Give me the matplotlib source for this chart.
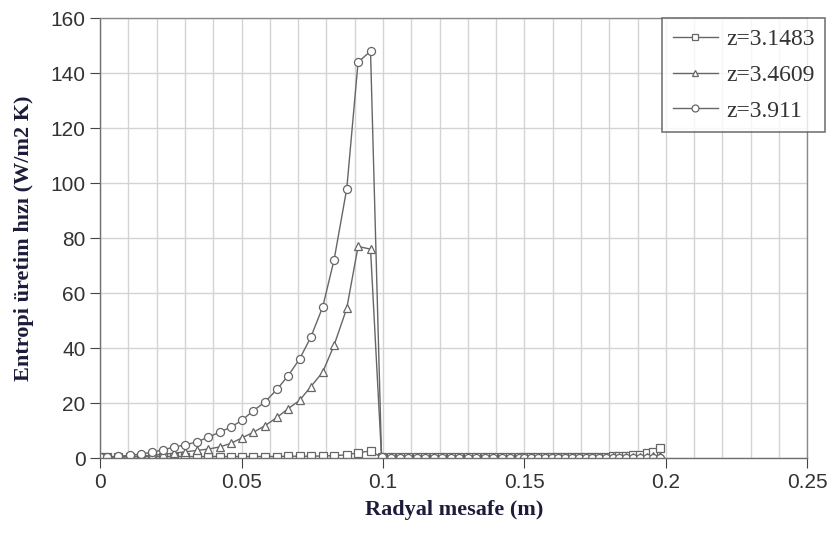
import matplotlib
matplotlib.use("Agg")
import matplotlib.pyplot as plt

# radial positions (m)
r_inner = [0.0, 0.0025, 0.0065, 0.0105, 0.0145, 0.0185, 0.0222, 0.026, 0.030, 0.0342,
           0.0382, 0.0424, 0.0463, 0.0502, 0.0542, 0.0583, 0.0625, 0.0665, 0.0705, 0.0745,
           0.0787, 0.0827, 0.0872, 0.0912, 0.0956, 0.0995]
r_outer = [0.103, 0.106, 0.109, 0.112, 0.115, 0.118, 0.121, 0.124, 0.127, 0.130,
           0.133, 0.136, 0.139, 0.142, 0.145, 0.148,
           0.150, 0.1524, 0.1548, 0.1572, 0.1596, 0.162, 0.1644, 0.1668, 0.1692, 0.1716,
           0.174, 0.1764, 0.1788, 0.1812, 0.1836, 0.186, 0.1884, 0.1908, 0.1932, 0.1956, 0.198]
r = r_inner + r_outer

# entropy generation rate (W/m2 K)
z1_inner = [0.5, 0.5, 0.6, 0.6, 0.6, 0.6, 0.6, 0.6, 0.6, 0.6,
            0.6, 0.6, 0.6, 0.6, 0.6, 0.6, 0.6, 0.7, 0.7, 0.7,
            0.8, 0.9, 1.2, 2.0, 2.6, 0.3]
z1_outer = [0.3, 0.3, 0.3, 0.3, 0.3, 0.3, 0.3, 0.3, 0.3, 0.3,
            0.3, 0.3, 0.3, 0.3, 0.3, 0.3,
            0.4, 0.4, 0.4, 0.4, 0.4, 0.4, 0.4, 0.5, 0.5, 0.5,
            0.5, 0.6, 0.6, 0.7, 0.8, 0.9, 1.0, 1.3, 2.0, 2.2, 3.6]

z2_inner = [0.2, 0.2, 0.3, 0.5, 0.7, 1.0, 1.4, 1.8, 2.3, 2.8,
            3.3, 4.1, 5.4, 7.4, 9.4, 11.8, 14.8, 18.0, 21.0, 26.0,
            31.3, 41.0, 54.5, 77.0, 76.0, 0.3]
z2_outer = [0.2, 0.2, 0.2, 0.2, 0.2, 0.2, 0.2, 0.2, 0.2, 0.2,
            0.2, 0.2, 0.2, 0.2, 0.2, 0.2,
            0.2, 0.2, 0.2, 0.2, 0.2, 0.2, 0.2, 0.3, 0.3, 0.3,
            0.3, 0.3, 0.3, 0.4, 0.4, 0.4, 0.5, 0.5, 0.6, 0.7, 0.8]

z3_inner = [0.3, 0.4, 0.7, 1.0, 1.5, 2.2, 3.0, 4.0, 4.8, 5.9,
            7.6, 9.5, 11.3, 13.8, 17.3, 20.4, 25.0, 30.0, 36.0, 44.0,
            55.0, 72.0, 98.0, 144.0, 148.0, 0.4]
z3_outer = [0.1, 0.1, 0.1, 0.1, 0.1, 0.1, 0.1, 0.1, 0.1, 0.1,
            0.1, 0.1, 0.1, 0.1, 0.1, 0.1,
            0.1, 0.1, 0.1, 0.1, 0.1, 0.1, 0.1, 0.1, 0.1, 0.1,
            0.1, 0.1, 0.1, 0.1, 0.1, 0.1, 0.1, 0.1, 0.1, 0.1, 0.1]

series = [z1_inner + z1_outer, z2_inner + z2_outer, z3_inner + z3_outer]
labels = ["z=3.1483", "z=3.4609", "z=3.911"]
markers = ["s", "^", "o"]

line_col = "#666666"
label_col = "#1c1c3a"

fig = plt.figure(figsize=(8.34, 5.5), dpi=100)
ax = fig.add_axes([0.12, 0.167, 0.848, 0.800])

for y, lab, m in zip(series, labels, markers):
    ax.plot(r, y, color=line_col, lw=1.0, marker=m, markersize=5.8,
            markerfacecolor="white", markeredgecolor=line_col, markeredgewidth=0.9,
            label=lab)

ax.set_xlim(0, 0.25)
ax.set_ylim(0, 160)
ax.set_xticks([0, 0.05, 0.1, 0.15, 0.2, 0.25])
ax.set_xticklabels(["0", "0.05", "0.1", "0.15", "0.2", "0.25"])
ax.set_yticks(range(0, 161, 20))
ax.set_xticks([i * 0.01 for i in range(26)], minor=True)
ax.tick_params(axis="x", which="minor", length=0)
ax.tick_params(axis="both", which="major", labelsize=15, colors="#444444",
               length=7, direction="out", labelcolor="#333333")
for lab in ax.get_xticklabels() + ax.get_yticklabels():
    lab.set_family(["Liberation Sans", "DejaVu Sans"])

ax.grid(True, which="major", axis="y", color="#d4d4d4", lw=1.0)
ax.grid(True, which="both", axis="x", color="#d4d4d4", lw=1.0)
ax.set_axisbelow(True)
for s in ax.spines.values():
    s.set_color("#8a8a8a")
    s.set_linewidth(1.0)
ax.spines["left"].set_color("#707070")
ax.spines["bottom"].set_color("#707070")

ax.set_xlabel("Radyal mesafe (m)", fontsize=16, fontweight="bold",
              family=["Liberation Serif", "DejaVu Serif"], color=label_col, labelpad=6)
ax.set_ylabel("Entropi üretim hızı (W/m2 K)", fontsize=16, fontweight="bold",
              family=["Liberation Serif", "DejaVu Serif"], color=label_col, labelpad=12)

leg = ax.legend(loc="upper right", bbox_to_anchor=(825 / 834, 532 / 550),
                bbox_transform=fig.transFigure, frameon=True, fancybox=False,
                prop={"family": ["Liberation Serif", "DejaVu Serif"], "size": 17},
                handlelength=1.9, handletextpad=0.35, borderpad=0.45, labelspacing=0.6,
                borderaxespad=0)
leg.get_frame().set_edgecolor("#555555")
leg.get_frame().set_linewidth(1.2)
for t in leg.get_texts():
    t.set_color("#333333")
for h in leg.legend_handles:
    h.set_markersize(5)

fig.savefig("out.png", dpi=100)
